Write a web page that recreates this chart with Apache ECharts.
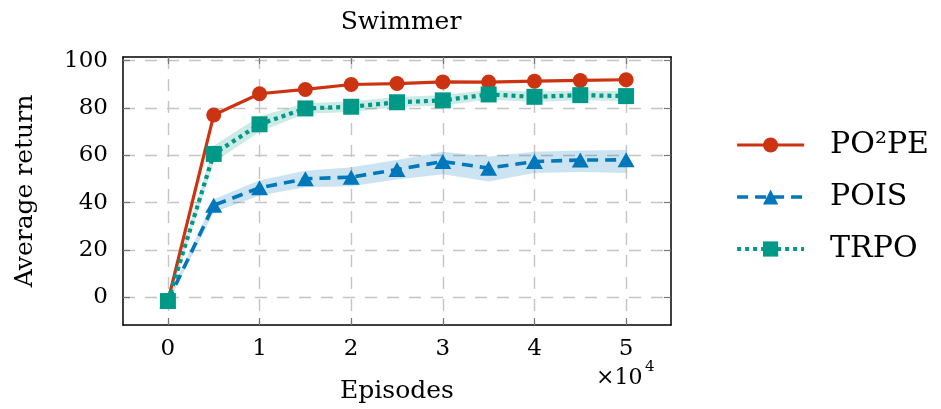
<!DOCTYPE html>
<html><head><meta charset="utf-8">
<script src="https://cdn.jsdelivr.net/npm/echarts@6/dist/echarts.min.js"></script>
<style>html,body{margin:0;padding:0;background:#fff}#c{width:941px;height:409px}</style>
</head><body><div id="c"></div><script>
// Episodes (x 10^4)
const episodes = [0, 0.5, 1, 1.5, 2, 2.5, 3, 3.5, 4, 4.5, 5];
const po2pe = [-1.5, 77.0, 86.0, 87.8, 89.9, 90.3, 91.0, 90.9, 91.3, 91.6, 91.9];
const pois = [-1.5, 38.9, 46.3, 50.1, 50.8, 54.0, 57.4, 54.6, 57.4, 58.0, 58.1];
const poisHigh = [-0.5, 41.5, 49.5, 53.5, 55.0, 58.0, 61.5, 59.5, 61.5, 62.0, 62.3];
const poisLow = [-2.5, 36.0, 43.0, 46.5, 47.0, 49.8, 52.0, 49.0, 52.5, 53.0, 52.5];
const trpo = [-1.5, 60.6, 73.1, 79.8, 80.5, 82.4, 83.2, 85.7, 84.7, 85.4, 85.0];
const trpoHigh = [-0.5, 64.0, 76.5, 82.0, 82.8, 84.6, 85.5, 87.6, 86.8, 87.4, 87.0];
const trpoLow = [-2.5, 57.0, 70.0, 77.5, 78.3, 80.3, 81.0, 83.6, 82.5, 83.3, 82.9];
const xTicks = [0, 1, 2, 3, 4, 5];
const yTicks = [0, 20, 40, 60, 80, 100];
const seriesNames = ['PO²PE', 'POIS', 'TRPO'];

const FONT = 'DejaVu Serif';
const RED = '#CC3311', BLUE = '#0077BB', TEAL = '#009988';
const X_MIN = -0.49, X_MAX = 5.49, Y_MIN = -11.6, Y_MAX = 101.5;

function pairs(ys) { return episodes.map((x, i) => [x, ys[i]]); }

function band(lo, hi, fill) {
  return {
    type: 'custom', silent: true, z: 1, clip: true,
    data: episodes.map((x, i) => [x, lo[i], hi[i]]),
    encode: { x: 0, y: [1, 2] },
    renderItem: function (params, api) {
      if (params.dataIndex !== 0) return null;
      const pts = [];
      for (let i = 0; i < episodes.length; i++) pts.push(api.coord([episodes[i], hi[i]]));
      for (let i = episodes.length - 1; i >= 0; i--) pts.push(api.coord([episodes[i], lo[i]]));
      return { type: 'polygon', shape: { points: pts }, style: { fill: fill } };
    }
  };
}

const gridLine = { show: true, lineStyle: { color: '#c4c4c4', width: 1.4, type: [12, 10] } };
const tickStyle = { show: true, inside: true, length: 7, lineStyle: { color: '#777', width: 1.2 } };

const chart = echarts.init(document.getElementById('c'), null, { renderer: 'canvas' });
chart.setOption({
  animation: false,
  backgroundColor: '#fff',
  textStyle: { fontFamily: FONT, color: '#000' },
  title: {
    text: 'Swimmer', left: 396, top: 5, textAlign: 'center',
    textStyle: { fontFamily: FONT, fontSize: 25, fontWeight: 'normal', color: '#000' }
  },
  grid: { left: 123, right: 270, top: 57, bottom: 83, show: false },
  legend: {
    orient: 'vertical', left: 735, top: 129, padding: 0,
    itemWidth: 67, itemHeight: 19, itemGap: 20,
    data: seriesNames,
    lineStyle: { width: 'inherit' },
    textStyle: { fontFamily: FONT, fontSize: 30, color: '#000', lineHeight: 32, padding: [0, 0, 0, 21] }
  },
  xAxis: [{
    type: 'value', min: X_MIN, max: X_MAX, position: 'bottom',
    axisLine: { show: true, onZero: false, lineStyle: { color: '#000', width: 1.5 } },
    axisTick: Object.assign({ customValues: xTicks }, tickStyle),
    axisLabel: { customValues: xTicks, fontFamily: FONT, fontSize: 23, color: '#000', margin: 13 },
    splitLine: gridLine,
    name: 'Episodes', nameLocation: 'middle', nameGap: 54,
    nameTextStyle: { fontFamily: FONT, fontSize: 25, color: '#000' }
  }, {
    type: 'value', min: X_MIN, max: X_MAX, position: 'top',
    axisLine: { show: true, onZero: false, lineStyle: { color: '#000', width: 1.5 } },
    axisTick: Object.assign({ customValues: xTicks }, tickStyle),
    axisLabel: { show: false }, splitLine: { show: false }
  }],
  yAxis: [{
    type: 'value', min: Y_MIN, max: Y_MAX, position: 'left',
    axisLine: { show: true, onZero: false, lineStyle: { color: '#000', width: 1.5 } },
    axisTick: Object.assign({ customValues: yTicks }, tickStyle),
    axisLabel: { customValues: yTicks, fontFamily: FONT, fontSize: 23, color: '#000', margin: 15 },
    splitLine: gridLine,
    name: 'Average return', nameLocation: 'middle', nameGap: 85,
    nameTextStyle: { fontFamily: FONT, fontSize: 25, color: '#000' }
  }, {
    type: 'value', min: Y_MIN, max: Y_MAX, position: 'right',
    axisLine: { show: true, onZero: false, lineStyle: { color: '#000', width: 1.5 } },
    axisTick: Object.assign({ customValues: yTicks }, tickStyle),
    axisLabel: { show: false }, splitLine: { show: false }
  }],
  graphic: [
    { type: 'text', left: 596, top: 367, style: { text: '×10', fontFamily: FONT, fontSize: 22, fill: '#000' } },
    { type: 'text', left: 645, top: 360, style: { text: '4', fontFamily: FONT, fontSize: 15, fill: '#000' } }
  ],
  series: [
    band(poisLow, poisHigh, 'rgba(0,119,187,0.2)'),
    band(trpoLow, trpoHigh, 'rgba(0,153,136,0.2)'),
    {
      type: 'line', name: seriesNames[0], data: pairs(po2pe), z: 3,
      symbol: 'circle', symbolSize: 15,
      itemStyle: { color: RED }, lineStyle: { color: RED, width: 3.2 }
    },
    {
      type: 'line', name: seriesNames[1], data: pairs(pois), z: 4,
      symbol: 'triangle', symbolSize: [17, 15],
      itemStyle: { color: BLUE }, lineStyle: { color: BLUE, width: 3.6, type: [11, 7] }
    },
    {
      type: 'line', name: seriesNames[2], data: pairs(trpo), z: 5,
      symbol: 'rect', symbolSize: 16,
      itemStyle: { color: TEAL }, lineStyle: { color: TEAL, width: 4.2, type: [4, 4] }
    }
  ]
});
</script></body></html>
